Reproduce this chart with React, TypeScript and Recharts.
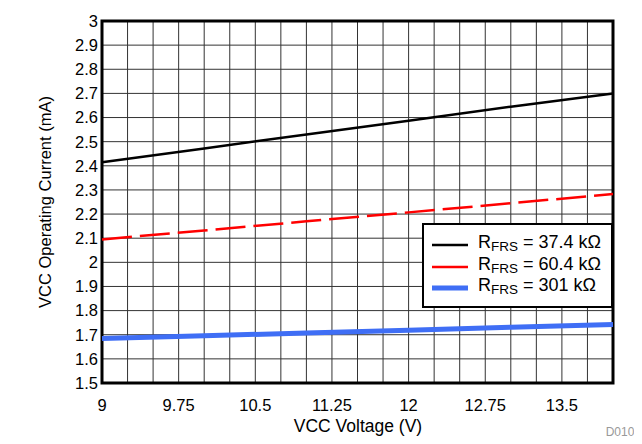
import { CartesianGrid, Line, LineChart, ReferenceArea, XAxis, YAxis } from 'recharts';

const voltages = [9, 10, 11, 12, 13, 14];
const current374k = [2.415, 2.472, 2.53, 2.587, 2.645, 2.7];
const current604k = [2.095, 2.132, 2.17, 2.207, 2.245, 2.283];
const current301k = [1.684, 1.696, 1.707, 1.719, 1.731, 1.742];

const xGridTicks = [9, 9.25, 9.5, 9.75, 10, 10.25, 10.5, 10.75, 11, 11.25, 11.5, 11.75, 12, 12.25, 12.5, 12.75, 13, 13.25, 13.5, 13.75, 14];
const xLabelTicks = [9, 9.75, 10.5, 11.25, 12, 12.75, 13.5];
const yTicks = [1.5, 1.6, 1.7, 1.8, 1.9, 2, 2.1, 2.2, 2.3, 2.4, 2.5, 2.6, 2.7, 2.8, 2.9, 3];

const seriesNames = ['37.4 k\u03a9', '60.4 k\u03a9', '301 k\u03a9'];

const data = voltages.map((v, i) => ({
  v,
  a: current374k[i],
  b: current604k[i],
  c: current301k[i],
}));

const FONT = '"Liberation Sans", Arial, sans-serif';

const legendItems = [
  { name: seriesNames[0], color: '#000000', width: 2.5 },
  { name: seriesNames[1], color: '#ff0000', width: 2.5 },
  { name: seriesNames[2], color: '#3f6ef5', width: 5 },
];

function LegendBox() {
  return (
    <div
      style={{
        position: 'absolute',
        left: 422,
        top: 223,
        width: 187,
        height: 81,
        border: '2px solid #000',
        background: '#fff',
        fontFamily: FONT,
        fontSize: 18,
        color: '#000',
      }}
    >
      {legendItems.map((it, i) => (
        <div key={i} style={{ position: 'relative', height: 21.5, marginTop: i === 0 ? 9 : 0 }}>
          <svg width={40} height={10} style={{ position: 'absolute', left: 8, top: 6 }}>
            <line x1={0} y1={5} x2={36} y2={5} stroke={it.color} strokeWidth={it.width} />
          </svg>
          <span style={{ position: 'absolute', left: 54, top: -1, whiteSpace: 'nowrap', lineHeight: '18px' }}>
            R<sub style={{ fontSize: 13.5, verticalAlign: -3, lineHeight: 0 }}>FRS</sub> = {it.name}
          </span>
        </div>
      ))}
    </div>
  );
}

export default function App() {
  return (
    <div style={{ position: 'relative', width: 642, height: 444, margin: -8, background: '#fff', overflow: 'hidden' }}>
      <div
        style={{
          position: 'absolute',
          left: 3,
          top: 2,
          right: 0,
          bottom: 0,
          borderLeft: '2px solid #555',
          borderTop: '2px solid #222',
        }}
      />
      <LineChart width={642} height={444} data={data} margin={{ top: 21, right: 29, left: 42, bottom: 31 }}>
        <CartesianGrid stroke="#333" strokeWidth={1} />
        <XAxis
          dataKey="v"
          type="number"
          domain={[9, 14]}
          ticks={xGridTicks}
          interval={0}
          tickLine={false}
          axisLine={false}
          tickSize={0}
          tickMargin={16}
          height={30}
          tickFormatter={(t: number) => (xLabelTicks.includes(t) ? String(t) : '')}
          tick={{ fill: '#000', fontSize: 16.5, fontFamily: FONT }}
        />
        <YAxis
          type="number"
          domain={[1.5, 3]}
          ticks={yTicks}
          interval={0}
          tickLine={false}
          axisLine={false}
          tickSize={0}
          tickMargin={4}
          width={60}
          tick={{ fill: '#000', fontSize: 16.5, fontFamily: FONT }}
        />
        <ReferenceArea x1={9} x2={14} y1={1.5} y2={3} fill="none" stroke="#000" strokeWidth={3} />
        <Line dataKey="a" stroke="#000000" strokeWidth={2.5} dot={false} isAnimationActive={false} />
        <Line dataKey="b" stroke="#ff0000" strokeWidth={2.5} strokeDasharray="30 8" dot={false} isAnimationActive={false} />
        <Line dataKey="c" stroke="#3f6ef5" strokeWidth={5} dot={false} isAnimationActive={false} />
      </LineChart>
      <LegendBox />
      <div
        style={{
          position: 'absolute',
          left: 45,
          top: 202,
          transform: 'translate(-50%, -50%) rotate(-90deg)',
          whiteSpace: 'nowrap',
          fontFamily: FONT,
          fontSize: 16.5,
          color: '#000',
        }}
      >
        VCC Operating Current (mA)
      </div>
      <div
        style={{
          position: 'absolute',
          left: 358,
          top: 426,
          transform: 'translate(-50%, -50%)',
          whiteSpace: 'nowrap',
          fontFamily: FONT,
          fontSize: 17.5,
          color: '#000',
        }}
      >
        VCC Voltage (V)
      </div>
      <div
        style={{
          position: 'absolute',
          left: 620,
          top: 432,
          transform: 'translate(-50%, -50%)',
          fontFamily: FONT,
          fontSize: 12,
          color: '#999',
        }}
      >
        D010
      </div>
    </div>
  );
}
